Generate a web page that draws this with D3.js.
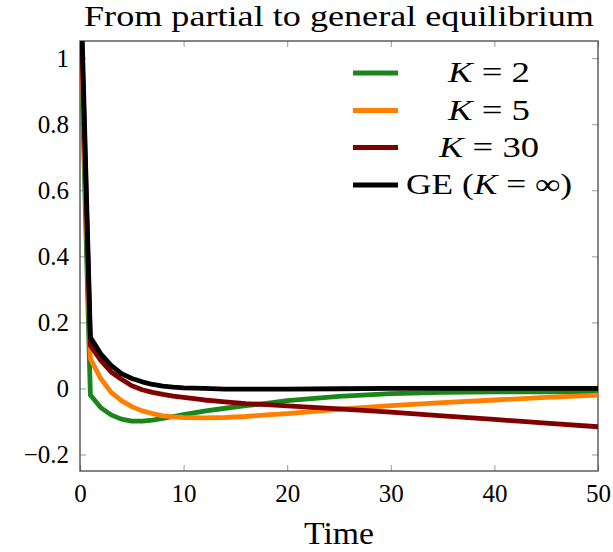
<!DOCTYPE html>
<html><head><meta charset="utf-8">
<script src="https://cdn.jsdelivr.net/npm/d3@7"></script>
<style>body{margin:0;background:#fff}svg{display:block}text{font-family:"Liberation Serif","Times New Roman",Times,serif;fill:#000}</style>
</head><body><svg id="c" width="613" height="552"></svg>
<script>
const times = [0,1,2,3,4,5,6,7,8,9,10,12,14,16,18,20,25,30,35,40,45,50];
const k2Vals  = [1.15,-0.02,-0.058,-0.08,-0.093,-0.099,-0.099,-0.096,-0.091,-0.085,-0.079,-0.069,-0.06,-0.052,-0.045,-0.037,-0.024,-0.016,-0.012,-0.01,-0.01,-0.01];
const k5Vals  = [1.2,0.09,0.03,-0.012,-0.037,-0.055,-0.068,-0.076,-0.083,-0.086,-0.088,-0.089,-0.088,-0.085,-0.08,-0.076,-0.063,-0.052,-0.043,-0.035,-0.027,-0.02];
const k30Vals = [1.25,0.13,0.085,0.05,0.028,0.008,-0.004,-0.012,-0.018,-0.023,-0.027,-0.035,-0.041,-0.046,-0.049,-0.053,-0.062,-0.072,-0.083,-0.094,-0.105,-0.116];
const geVals  = [1.3,0.155,0.105,0.07,0.045,0.03,0.02,0.012,0.007,0.004,0.002,0,-0.002,-0.002,-0.002,-0.002,-0.001,0,0,0,0,0];
const seriesColors = ["#1a861a","#ff8000","#800000","#000000"];
const xTicks = [0,10,20,30,40,50];
const yTicks = [-0.2,0,0.2,0.4,0.6,0.8,1];
const titleText = "From partial to general equilibrium";
const xLabel = "Time";

const FF = "'Liberation Serif','Times New Roman',Times,serif";
const series = [k2Vals,k5Vals,k30Vals,geVals];
const svg = d3.select("#c");
const L=80,R=598,T=41,B=471;
const x = d3.scaleLinear().domain([0,50]).range([L,R]);
const y = d3.scaleLinear().domain([-0.25,1.052]).range([B,T]);
const fmt = d => String(Math.round(d*10)/10).replace("-","\u2212");

svg.append("clipPath").attr("id","clip").append("rect").attr("x",L).attr("y",T).attr("width",R-L).attr("height",B-T);

const gx = svg.append("g").attr("transform",`translate(0,${B})`)
  .call(d3.axisBottom(x).tickValues(xTicks).tickFormat(d=>d).tickSize(-6).tickPadding(13));
const gxt = svg.append("g").attr("transform",`translate(0,${T})`)
  .call(d3.axisTop(x).tickValues(xTicks).tickFormat("").tickSize(-6));
const gy = svg.append("g").attr("transform",`translate(${L},0)`)
  .call(d3.axisLeft(y).tickValues(yTicks).tickFormat(fmt).tickSize(-6).tickPadding(11));
const gyr = svg.append("g").attr("transform",`translate(${R},0)`)
  .call(d3.axisRight(y).tickValues(yTicks).tickFormat("").tickSize(-6));
[gx,gxt,gy,gyr].forEach(g=>{
  g.attr("font-family",FF).attr("font-size",25);
  g.select(".domain").remove();
  g.selectAll(".tick line").attr("stroke","#999").attr("stroke-width",1);
  g.selectAll(".tick text").attr("font-family",FF).style("font-family",FF).style("font-size","25px").attr("fill","#000");
});
svg.append("rect").attr("x",L).attr("y",T).attr("width",R-L).attr("height",B-T)
  .attr("fill","none").attr("stroke","#444").attr("stroke-width",1.3);

const line = d3.line().x((d,i)=>x(times[i])).y(d=>y(d));
const plot = svg.append("g").attr("clip-path","url(#clip)");
series.forEach((s,i)=>{
  plot.append("path").datum(s).attr("d",line).attr("fill","none")
    .attr("stroke",seriesColors[i]).attr("stroke-width",4.8).attr("stroke-linejoin","round");
});

svg.append("text").attr("x",(L+R)/2).attr("y",26).attr("text-anchor","middle").style("font-family",FF)
  .style("font-size","30px").attr("textLength",510).attr("lengthAdjust","spacingAndGlyphs").text(titleText);
svg.append("text").attr("x",(L+R)/2).attr("y",544).attr("text-anchor","middle").style("font-family",FF)
  .style("font-size","31px").attr("textLength",70).attr("lengthAdjust","spacingAndGlyphs").text(xLabel);

const legRows = [
  [{t:"K",i:true},{t:" = 2"}],
  [{t:"K",i:true},{t:" = 5"}],
  [{t:"K",i:true},{t:" = 30"}],
  [{t:"GE ("},{t:"K",i:true},{t:" = \u221e)"}]
];
const legWidths = [82,82,100,166];
const legY = [73,110.5,147.5,185];
legRows.forEach((row,i)=>{
  svg.append("line").attr("x1",353).attr("x2",398).attr("y1",legY[i]).attr("y2",legY[i])
    .attr("stroke",seriesColors[i]).attr("stroke-width",4.8);
  const t = svg.append("text").attr("x",489).attr("y",legY[i]+9).attr("text-anchor","middle").style("font-family",FF)
    .style("font-size","29px").attr("textLength",legWidths[i]).attr("lengthAdjust","spacingAndGlyphs");
  row.forEach(p=>{ const ts=t.append("tspan").text(p.t); if(p.i) ts.style("font-style","italic"); });
});
</script></body></html>
